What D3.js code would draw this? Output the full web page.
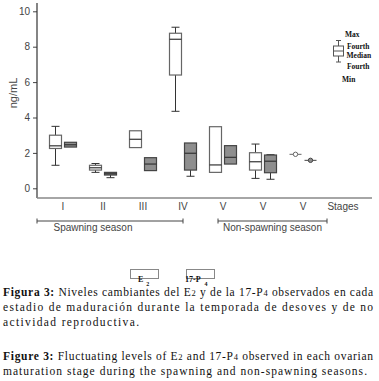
<!DOCTYPE html>
<html>
<head>
<meta charset="utf-8">
<script src="https://cdn.jsdelivr.net/npm/d3@7"></script>
<style>
  body { margin: 0; background: #fff; }
  svg { display: block; }
  .axis text { font-family: "Liberation Sans", Arial, sans-serif; font-size: 10px; fill: #444; }
  .axis line { stroke: #444; }
  .lbl { font-family: "Liberation Sans", Arial, sans-serif; font-size: 10px; fill: #444; }
  .serif { font-family: "Liberation Serif", "Times New Roman", serif; fill: #111; }
</style>
</head>
<body>
<svg id="chart" width="379" height="381"></svg>
<script>
// stage labels along the x axis (last one is the axis title)
const stageLabels = ["I", "II", "III", "IV", "V", "V", "V", "Stages"];
const seasons = ["Spawning season", "Non-spawning season"];
const yTicks = [0, 2, 4, 6, 8, 10];

// [min, q1, median, q3, max] per stage
const e2Stats = [
  [1.3, 2.25, 2.4, 3.0, 3.5],
  [0.9, 1.03, 1.16, 1.3, 1.4],
  [2.3, 2.3, 2.77, 3.25, 3.25],
  [4.35, 6.4, 8.42, 8.76, 9.1],
  [0.9, 0.9, 1.32, 3.48, 3.48],
  [0.56, 1.03, 1.5, 2.01, 2.5],
  [1.92, 1.92, 1.92, 1.92, 1.92]
];
const p4Stats = [
  [2.33, 2.33, 2.46, 2.6, 2.6],
  [0.6, 0.75, 0.82, 0.9, 0.9],
  [1.0, 1.0, 1.37, 1.73, 1.73],
  [0.68, 1.03, 1.98, 2.56, 2.56],
  [1.37, 1.37, 1.75, 2.41, 2.41],
  [0.51, 0.88, 1.53, 1.88, 1.9],
  [1.58, 1.58, 1.58, 1.58, 1.58]
];
const seriesNames = ["E", "17-P"];
const seriesSubs = ["2", "4"];
const legendStats = ["Max", "Fourth", "Median", "Fourth", "Min"];

const svg = d3.select('#chart');

const x = d3.scalePoint()
    .domain(d3.range(stageLabels.length))
    .range([63, 343]);

const y = d3.scaleLinear()
    .domain([0, 10])
    .range([188.3, 11.3]);

// y axis: ticks only, long line drawn separately
const yAxis = d3.axisLeft(y).tickValues(yTicks).tickSize(4).tickPadding(3);
const yAxisG = svg.append('g')
    .attr('class', 'axis')
    .attr('transform', 'translate(37,0)')
    .call(yAxis);
yAxisG.select('.domain').remove();

svg.append('line')
    .attr('x1', 37).attr('x2', 37)
    .attr('y1', 3).attr('y2', 198)
    .attr('stroke', '#333').attr('stroke-width', 1.2);
svg.append('line')
    .attr('x1', 37).attr('x2', 372)
    .attr('y1', 198).attr('y2', 198)
    .attr('stroke', '#888').attr('stroke-width', 1.5);

svg.append('text')
    .attr('class', 'lbl')
    .attr('transform', 'translate(17,93) rotate(-90)')
    .attr('text-anchor', 'middle')
    .style('font-size', '11px')
    .text('ng/mL');

// stage labels
svg.selectAll('.stage')
    .data(stageLabels)
  .join('text')
    .attr('class', 'lbl stage')
    .attr('x', (d, i) => x(i))
    .attr('y', 210)
    .attr('text-anchor', 'middle')
    .text(d => d);

// season brackets
const brackets = [
  [37, x(3)],
  [x(4) - 5, x(6) + 24]
];
brackets.forEach((b, i) => {
  const g = svg.append('g').attr('stroke', '#444').attr('stroke-width', 1);
  g.append('line').attr('x1', b[0]).attr('x2', b[1]).attr('y1', 221).attr('y2', 221);
  g.append('line').attr('x1', b[0]).attr('x2', b[0]).attr('y1', 218.5).attr('y2', 223.5);
  g.append('line').attr('x1', b[1]).attr('x2', b[1]).attr('y1', 218.5).attr('y2', 223.5);
  svg.append('text')
    .attr('class', 'lbl')
    .attr('x', i === 0 ? 93 : (b[0] + b[1]) / 2)
    .attr('y', 231)
    .attr('text-anchor', 'middle')
    .text(seasons[i]);
});

// box plots
const boxW = 12;
function drawBoxes(stats, offset, fill, stroke) {
  const g = svg.append('g');
  stats.forEach((s, i) => {
    const cx = x(i) + offset;
    const x0 = cx - boxW / 2, x1 = cx + boxW / 2;
    const [mn, q1, md, q3, mx] = s;
    if (mn === mx) {
      g.append('line').attr('x1', x0).attr('x2', x1)
        .attr('y1', y(md)).attr('y2', y(md))
        .attr('stroke', stroke).attr('stroke-width', 1);
      g.append('circle').attr('cx', cx).attr('cy', y(md)).attr('r', 2.2)
        .attr('fill', fill).attr('stroke', stroke).attr('stroke-width', 1);
      return;
    }
    // whiskers
    if (mx > q3) {
      g.append('line').attr('x1', cx).attr('x2', cx).attr('y1', y(mx)).attr('y2', y(q3))
        .attr('stroke', '#333');
      g.append('line').attr('x1', cx - 4).attr('x2', cx + 4).attr('y1', y(mx)).attr('y2', y(mx))
        .attr('stroke', '#333');
    }
    if (mn < q1) {
      g.append('line').attr('x1', cx).attr('x2', cx).attr('y1', y(q1)).attr('y2', y(mn))
        .attr('stroke', '#333');
      g.append('line').attr('x1', cx - 4).attr('x2', cx + 4).attr('y1', y(mn)).attr('y2', y(mn))
        .attr('stroke', '#333');
    }
    g.append('rect')
      .attr('x', x0).attr('y', y(q3))
      .attr('width', boxW).attr('height', y(q1) - y(q3))
      .attr('fill', fill).attr('stroke', stroke).attr('stroke-width', 1.2);
    g.append('line').attr('x1', x0).attr('x2', x1).attr('y1', y(md)).attr('y2', y(md))
      .attr('stroke', '#333').attr('stroke-width', 1.2);
  });
}
drawBoxes(e2Stats, -7.5, '#fff', '#666');
drawBoxes(p4Stats, 7.5, '#8e8e8e', '#444');

// legend box plot (top right)
const lg = svg.append('g').attr('stroke', '#555');
lg.append('line').attr('x1', 338.5).attr('x2', 338.5).attr('y1', 40.5).attr('y2', 62);
lg.append('line').attr('x1', 336).attr('x2', 341).attr('y1', 40.5).attr('y2', 40.5);
lg.append('line').attr('x1', 336).attr('x2', 341).attr('y1', 62).attr('y2', 62);
lg.append('rect').attr('x', 333.5).attr('y', 46).attr('width', 10).attr('height', 10).attr('fill', '#fff');
lg.append('line').attr('x1', 333.5).attr('x2', 343.5).attr('y1', 51).attr('y2', 51);
const legendPos = [[345, 37], [347, 49], [346.5, 58], [347, 68.5], [342, 82]];
svg.selectAll('.lstat')
    .data(legendStats)
  .join('text')
    .attr('class', 'serif lstat')
    .attr('x', (d, i) => legendPos[i][0])
    .attr('y', (d, i) => legendPos[i][1])
    .style('font-size', '7.5px')
    .style('font-weight', 'bold')
    .text(d => d);

// series legend
const legX = [130, 186];
seriesNames.forEach((n, i) => {
  svg.append('rect')
    .attr('x', legX[i] + 0.5).attr('y', 269.5)
    .attr('width', 28).attr('height', 9)
    .attr('fill', '#fff').attr('stroke', '#888');
  const t = svg.append('text')
    .attr('class', 'serif')
    .attr('x', i === 0 ? legX[i] + 8 : legX[i] - 1)
    .attr('y', 282)
    .style('font-size', '8px')
    .style('font-weight', 'bold');
  t.append('tspan').text(n);
  t.append('tspan').attr('dx', i === 0 ? 3 : 4).attr('dy', 3.5).style('font-size', '6px').text(seriesSubs[i]);
});

// caption
const capLines = [
  { y: 296, w: 370, parts: [["Figura 3:", true], [" Niveles cambiantes del E", false], ["2", false, true], [" y de la 17-P", false], ["4", false, true], [" observados en cada", false]] },
  { y: 311, w: 370, parts: [["estadio de maduración durante la temporada de desoves y de no", false]] },
  { y: 326, w: 136, parts: [["actividad reproductiva.", false]] },
  { y: 360, w: 370, parts: [["Figure 3:", true], [" Fluctuating levels of E", false], ["2", false, true], [" and 17-P", false], ["4", false, true], [" observed in each ovarian", false]] },
  { y: 375, w: 364, parts: [["maturation stage during the spawning and non-spawning seasons.", false]] }
];
capLines.forEach(l => {
  const t = svg.append('text')
    .attr('class', 'serif')
    .attr('x', 3)
    .attr('y', l.y)
    .attr('textLength', l.w)
    .attr('lengthAdjust', 'spacing')
    .style('font-size', '11.5px');
  l.parts.forEach(p => {
    t.append('tspan')
      .style('font-weight', p[1] ? 'bold' : 'normal')
      .style('font-size', p[2] ? '8.5px' : null)
      .text(p[0]);
  });
});
</script>
</body>
</html>
